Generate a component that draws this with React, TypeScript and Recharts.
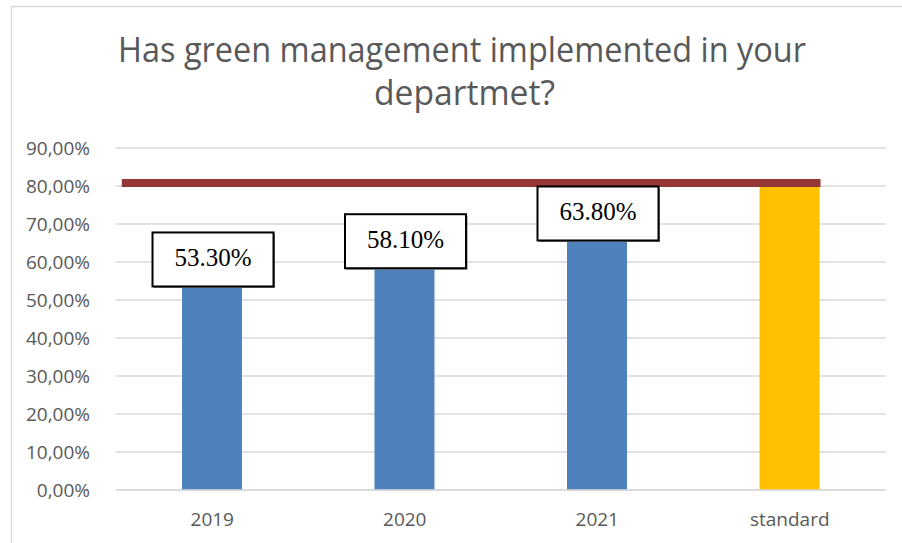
import { ComposedChart, Bar, Line, XAxis, YAxis, CartesianGrid, Cell, LabelList } from 'recharts';

const categories = ['2019', '2020', '2021', 'standard'];
const barValues = [53.3, 58.1, 65.4, 80];
const labelValues = [53.3, 58.1, 63.8];
const yTicks = [0, 10, 20, 30, 40, 50, 60, 70, 80, 90];
// standard threshold line, x in category units (0..4)
const standardLineX = [0.03, 3.66];
const standardLineY = [80.8, 80.8];

const data = categories.map((name, i) => ({
  name,
  value: barValues[i],
  label: i < labelValues.length ? labelValues[i] : null,
}));

const lineData = standardLineX.map((x, i) => ({ lx: x, ly: standardLineY[i] }));

const BLUE = '#4f81bd';
const YELLOW = '#ffc000';
const RED = '#953735';
const GRAY_TEXT = '#595959';
const GRID = '#d9d9d9';

const fmtTick = (v: number) => `${v.toFixed(2).replace('.', ',')}%`;

const BoxLabel = (props: any) => {
  const { x, y, width, value } = props;
  if (value == null) return null;
  const w = 121;
  const h = 54;
  const cx = x + width / 2 + 1;
  const bottom = y - 1;
  return (
    <g>
      <rect x={cx - w / 2 + 1.5} y={bottom - h + 1.5} width={w} height={h} fill="#7f7f7f" />
      <rect x={cx - w / 2} y={bottom - h} width={w} height={h} fill="#fff" stroke="#000" strokeWidth={2} />
      <text
        x={cx}
        y={bottom - h + 34}
        textAnchor="middle"
        fontFamily="'Liberation Serif', 'Times New Roman', serif"
        fontSize={25}
        fill="#000"
      >
        {`${Number(value).toFixed(2)}%`}
      </text>
    </g>
  );
};

export default function App() {
  return (
    <div style={{ position: 'absolute', left: 0, top: 0, width: 902, height: 543, background: '#fff' }}>
      <svg width={902} height={543} style={{ position: 'absolute', left: 0, top: 0 }}>
        <rect x={11.5} y={6.5} width={1000} height={1000} fill="#fff" stroke={GRID} strokeWidth={1.5} />
        <text
          x={462}
          y={61.7}
          textAnchor="middle"
          fontFamily="'Open Sans', sans-serif"
          fontSize={34}
          fill={GRAY_TEXT}
          textLength={688}
          lengthAdjust="spacingAndGlyphs"
        >
          Has green management implemented in your
        </text>
        <text
          x={464.5}
          y={105}
          textAnchor="middle"
          fontFamily="'Open Sans', sans-serif"
          fontSize={34}
          fill={GRAY_TEXT}
          textLength={181}
          lengthAdjust="spacingAndGlyphs"
        >
          departmet?
        </text>
      </svg>
      <div style={{ position: 'absolute', left: 0, top: 0 }}>
        <ComposedChart
          width={902}
          height={543}
          data={data}
          margin={{ top: 148, right: 16, bottom: 13, left: 0 }}
          barSize={60}
        >
          <CartesianGrid vertical={false} stroke={GRID} strokeWidth={1.5} />
          <XAxis
            dataKey="name"
            axisLine={{ stroke: GRID, strokeWidth: 1.5 }}
            tickLine={false}
            height={40}
            tick={{ fill: GRAY_TEXT, fontSize: 19, fontFamily: "'Open Sans', sans-serif" }}
            tickMargin={17}
          />
          <XAxis xAxisId="line" dataKey="lx" type="number" domain={[0, 4]} allowDataOverflow hide />
          <YAxis
            width={116}
            domain={[0, 90]}
            ticks={yTicks}
            tickFormatter={fmtTick}
            axisLine={false}
            tickLine={false}
            tickMargin={20}
            interval={0}
            tick={{ fill: GRAY_TEXT, fontSize: 19, fontFamily: "'Open Sans', sans-serif" }}
          />
          <Bar dataKey="value" isAnimationActive={false}>
            {data.map((d, i) => (
              <Cell key={d.name} fill={i === data.length - 1 ? YELLOW : BLUE} />
            ))}
            <LabelList dataKey="label" content={BoxLabel} />
          </Bar>
          <Line
            xAxisId="line"
            data={lineData}
            dataKey="ly"
            stroke={RED}
            strokeWidth={8}
            strokeLinecap="butt"
            dot={false}
            activeDot={false}
            isAnimationActive={false}
          />
        </ComposedChart>
      </div>
    </div>
  );
}
